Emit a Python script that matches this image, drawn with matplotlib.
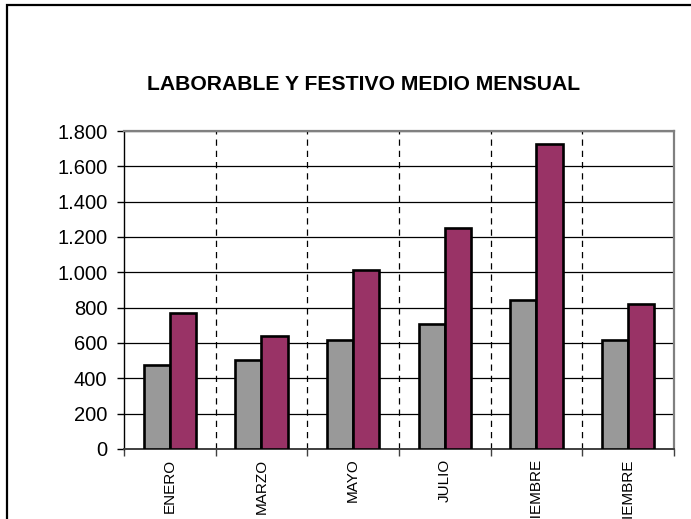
import matplotlib
matplotlib.use("Agg")
import matplotlib.pyplot as plt
from matplotlib.ticker import FuncFormatter, FixedLocator
from matplotlib.patches import Rectangle
import numpy as np

categories = ["ENERO", "MARZO", "MAYO", "JULIO", "SEPTIEMBRE", "NOVIEMBRE"]
laborable = [475, 503, 616, 708, 846, 616]
festivo = [767, 640, 1011, 1250, 1727, 821]
title = "LABORABLE Y FESTIVO MEDIO MENSUAL"

plt.rcParams['font.family'] = ['Liberation Sans', 'DejaVu Sans']

W, H = 691, 519
fig = plt.figure(figsize=(W / 100, H / 100), dpi=100)

def fx(px):
    return px / W

def fy(py):
    return 1 - py / H

# figure border (extends past right/bottom)
fig.patches.append(Rectangle((fx(7), fy(530)), fx(700) - fx(7), fy(5) - fy(530),
                             transform=fig.transFigure, fill=False,
                             edgecolor='black', linewidth=1.6, clip_on=False))

ax = fig.add_axes([fx(124), fy(449), fx(674) - fx(124), fy(131) - fy(449)])

x = np.arange(len(categories))
bw = 0.286
off = 0.143
ax.bar(x - off, laborable, width=bw, color='#999999', edgecolor='black', linewidth=1.9, zorder=3)
ax.bar(x + off, festivo, width=bw, color='#993366', edgecolor='black', linewidth=1.9, zorder=3)

ax.set_xlim(-0.5, len(categories) - 0.5)
ax.set_ylim(0, 1800)
ax.set_yticks(np.arange(0, 1801, 200))
ax.yaxis.set_major_formatter(FuncFormatter(lambda v, p: f"{int(v):,}".replace(",", ".")))
ax.yaxis.grid(True, color='black', linewidth=0.9, zorder=1)

# vertical dashed separators
for b in np.arange(0.5, len(categories) - 0.5, 1.0):
    ax.axvline(b, color='black', linewidth=0.9, linestyle=(0, (5, 4)), zorder=1)

ax.set_xticks(x)
ax.set_xticklabels(categories, rotation=90, va='top', ha='center', fontsize=11)
ax.tick_params(axis='x', which='major', length=0, pad=7)
ax.xaxis.set_minor_locator(FixedLocator(np.arange(-0.5, len(categories), 1.0)))
ax.tick_params(axis='x', which='minor', length=5, width=1, color='#404040', direction='out')
ax.tick_params(axis='y', length=5, width=1, pad=7, labelsize=14.5, direction='out')

for s in ['top', 'right']:
    ax.spines[s].set_color('#808080')
    ax.spines[s].set_linewidth(1.6)
ax.spines['left'].set_color('black')
ax.spines['left'].set_linewidth(1.0)
ax.spines['bottom'].set_color('#404040')
ax.spines['bottom'].set_linewidth(1.4)

fig.text(fx(364), fy(84), title, ha='center', va='center', fontsize=15.2, fontweight='bold')

fig.savefig("out.png", dpi=100)
